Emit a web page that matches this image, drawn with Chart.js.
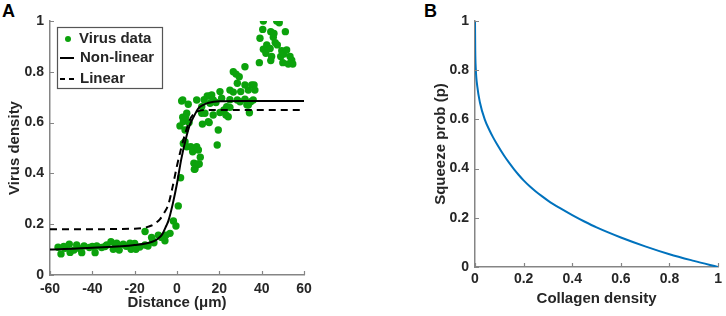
<!DOCTYPE html>
<html>
<head>
<meta charset="utf-8">
<script src="https://cdn.jsdelivr.net/npm/chart.js@4.4.1/dist/chart.umd.min.js"></script>
<style>
  body { margin: 0; background: #fff; width: 726px; height: 316px; overflow: hidden; position: relative; font-family: "Liberation Sans", Arial, sans-serif; }
  .panel { position: absolute; top: 0; }
  .tag { position: absolute; font-weight: bold; font-size: 18px; color: #000; line-height: 21px; }
</style>
</head>
<body>
<div class="tag" style="left:2px;top:1px">A</div>
<div class="tag" style="left:424px;top:1px">B</div>
<div class="panel" style="left:0;width:330px;height:316px"><canvas id="chartA"></canvas></div>
<div class="panel" style="left:430px;width:296px;height:312px"><canvas id="chartB"></canvas></div>
<script>
// panel A: measured virus density vs distance
const virusX = [
  -56.2, -54.8, -53.5, -52.9, -50.9, -50.5, -48.7, -47.4, -46, -45, -43.9, -41.4, -40, -38.7, -37.9,
  -35.6, -34, -33.2, -31.2, -30.1, -29, -28.5, -27.3, -25.4, -24, -22.2, -21.7, -20, -19.4, -17.6,
  -15.1, -15.1, -13.7, -12, -11.5, -10.9, -8.8, -7.3, -5.7, -5.2, -3.3, -1.7, -0.5, 0.6, 1.7,
  1.4, 2.2, 2.7, 2.7, 3.0, 3.0, 3.8, 3.8, 4.1, 4.6, 4.6, 5.3, 5.7, 6.5, 7.4, 8.0, 8.2, 8.5, 9.3,
  9.3, 9.8, 10.1, 10.5, 11.0, 9.3, 11.7, 11.7, 12.0, 12.8, 13.2, 14.3, 14.8, 15.2, 15.6, 15.6, 16.4,
  17.1, 17.1, 18.4, 19.0, 19.5, 20.3, 20.3, 21.1, 22.2, 23.1, 23.5, 24.2, 25.0, 25.0, 25.0, 26.6,
  26.6, 27.9, 28.5, 28.5, 29.4, 29.8, 30.1, 32.1, 32.1, 32.1, 33.0, 33.7, 33.7, 34.2, 34.8, 35.3,
  36.0, 36.4, 36.8,
  38.9, 39.2, 40.5, 40.8, 40.8, 42.0, 42.4, 44.0, 44.3, 44.3, 44.7, 45.5, 45.8, 46.4, 47.1, 47.4,
  48.3, 49.0, 49.5, 50.0, 50.5, 51.2, 51.8, 52.6, 53.4, 54.2, 54.7
];
const virusY = [
  0.109, 0.083, 0.112, 0.105, 0.121, 0.089, 0.098, 0.118, 0.104, 0.088, 0.114, 0.108, 0.112, 0.088, 0.114,
  0.108, 0.112, 0.118, 0.131, 0.101, 0.118, 0.125, 0.098, 0.121, 0.113, 0.125, 0.101, 0.124, 0.101, 0.110,
  0.118, 0.171, 0.114, 0.148, 0.135, 0.127, 0.157, 0.148, 0.135, 0.157, 0.164, 0.213, 0.193, 0.272, 0.383,
  0.587, 0.685, 0.689, 0.621, 0.604, 0.518, 0.525, 0.571, 0.623, 0.637, 0.505, 0.672, 0.600, 0.505, 0.485, 0.440, 0.416, 0.417, 0.433,
  0.505, 0.437, 0.492, 0.437, 0.464, 0.689, 0.663, 0.637, 0.594, 0.690, 0.637, 0.705, 0.604, 0.600, 0.676, 0.705, 0.709,
  0.689, 0.630, 0.679, 0.512, 0.571, 0.722, 0.640, 0.696, 0.650, 0.630, 0.663, 0.623, 0.728, 0.690, 0.660, 0.800,
  0.720, 0.791, 0.755, 0.689, 0.781, 0.682, 0.722, 0.820, 0.748, 0.692, 0.670, 0.728, 0.669, 0.639, 0.682, 0.748,
  0.689, 0.748, 0.728,
  0.836, 0.932, 0.967, 1.000, 0.889, 0.873, 0.906, 0.892, 0.958, 0.844, 0.860, 0.936, 0.951, 0.915, 1.000, 0.906,
  0.993, 0.860, 0.883, 0.836, 0.870, 0.958, 0.886, 0.831, 0.860, 0.846, 0.831
];

// fitted curves
const nonlinX = [-60, -40, -20, -12, -9, -7, -5, -4, -2, 0, 2, 4, 6, 8, 10, 12, 15, 20, 30, 60];
const nonlinY = [0.100, 0.107, 0.118, 0.130, 0.143, 0.160, 0.195, 0.215, 0.280, 0.360, 0.455, 0.530, 0.590, 0.625, 0.655, 0.668, 0.678, 0.684, 0.685, 0.685];
const linearX = [-60, -20, -15, -12, -10, -8, -6, -4, -2, 0, 2, 4, 6, 8, 10, 13, 60];
const linearY = [0.180, 0.182, 0.187, 0.195, 0.205, 0.220, 0.245, 0.280, 0.350, 0.430, 0.500, 0.560, 0.610, 0.635, 0.645, 0.650, 0.650];

// panel B: squeeze probability vs collagen density
const collagen = [0, 0.001, 0.003, 0.01, 0.02, 0.04, 0.06, 0.075, 0.09, 0.12, 0.14, 0.16, 0.18, 0.2, 0.225, 0.25, 0.275, 0.3, 0.35, 0.4, 0.45, 0.5, 0.6, 0.7, 0.8, 0.9, 1.0];
const squeeze = [1.0, 0.88, 0.81, 0.73, 0.67, 0.60, 0.555, 0.526, 0.50, 0.452, 0.424, 0.398, 0.374, 0.352, 0.328, 0.307, 0.288, 0.270, 0.239, 0.211, 0.185, 0.161, 0.120, 0.084, 0.052, 0.025, 0.0];

const AXIS = '#858585';
const TEXT = '#262626';
const FONT = 'Liberation Sans';

const pts = (xs, ys) => xs.map((x, i) => ({ x: x, y: ys[i] }));

const innerTicks = {
    id: 'innerTicks',
    afterDraw(chart) {
        const { ctx, chartArea, scales } = chart;
        ctx.save();
        ctx.strokeStyle = AXIS;
        ctx.lineWidth = 1.2;
        ctx.beginPath();
        scales.x.ticks.forEach(t => {
            const px = Math.round(scales.x.getPixelForValue(t.value)) + 0.5;
            ctx.moveTo(px, chartArea.bottom);
            ctx.lineTo(px, chartArea.bottom - 4);
        });
        scales.y.ticks.forEach(t => {
            const py = Math.round(scales.y.getPixelForValue(t.value)) + 0.5;
            ctx.moveTo(chartArea.left, py);
            ctx.lineTo(chartArea.left + 4, py);
        });
        ctx.stroke();
        ctx.restore();
    }
};

const legendBox = {
    id: 'legendBox',
    afterDraw(chart) {
        const { ctx, chartArea } = chart;
        const x0 = chartArea.left + 7, y0 = chartArea.top + 6;
        ctx.save();
        ctx.fillStyle = '#fff';
        ctx.fillRect(x0, y0, 105, 61);
        ctx.strokeStyle = '#555';
        ctx.lineWidth = 1.2;
        ctx.strokeRect(x0 + 0.5, y0 + 0.5, 105, 61);

        ctx.fillStyle = '#0ca20c';
        ctx.beginPath();
        ctx.arc(x0 + 11, y0 + 12, 3, 0, Math.PI * 2);
        ctx.fill();

        ctx.strokeStyle = '#000';
        ctx.lineWidth = 2;
        ctx.beginPath();
        ctx.moveTo(x0 + 3, y0 + 31);
        ctx.lineTo(x0 + 17, y0 + 31);
        ctx.stroke();
        ctx.setLineDash([5, 4]);
        ctx.beginPath();
        ctx.moveTo(x0 + 3, y0 + 52);
        ctx.lineTo(x0 + 17, y0 + 52);
        ctx.stroke();

        ctx.fillStyle = TEXT;
        ctx.font = 'bold 15px "' + FONT + '"';
        ctx.textBaseline = 'middle';
        ctx.fillText('Virus data', x0 + 22, y0 + 12);
        ctx.fillText('Non-linear', x0 + 23, y0 + 31);
        ctx.fillText('Linear', x0 + 23, y0 + 52);
        ctx.restore();
    }
};

function axis(min, max, step, title, pad, size, isX, titlePad) {
    return {
        type: 'linear',
        min: min,
        max: max,
        ticks: {
            stepSize: step,
            padding: pad,
            color: TEXT,
            font: { family: FONT, size: 14, weight: 'bold' },
            callback: (v) => String(Number(v.toFixed(2)))
        },
        grid: { display: true, drawOnChartArea: false, drawTicks: false },
        border: { display: true, color: AXIS, width: 1.5 },
        title: {
            display: true,
            text: title,
            color: TEXT,
            padding: { top: titlePad, bottom: titlePad },
            font: { family: FONT, size: 15, weight: 'bold' }
        },
        afterFit: (scale) => {
            if (isX) scale.height = size; else scale.width = size;
        }
    };
}

new Chart(document.getElementById('chartA'), {
    type: 'scatter',
    data: {
        datasets: [
            {
                type: 'line',
                label: 'Non-linear',
                data: pts(nonlinX, nonlinY),
                borderColor: '#000',
                borderWidth: 2,
                pointRadius: 0,
                cubicInterpolationMode: 'monotone',
                order: 1
            },
            {
                type: 'line',
                label: 'Linear',
                data: pts(linearX, linearY),
                borderColor: '#000',
                borderWidth: 2,
                borderDash: [7, 5],
                pointRadius: 0,
                cubicInterpolationMode: 'monotone',
                order: 1
            },
            {
                label: 'Virus data',
                data: pts(virusX, virusY),
                backgroundColor: '#0ca20c',
                borderColor: '#0ca20c',
                pointRadius: 3.7,
                borderWidth: 0,
                order: 2
            }
        ]
    },
    options: {
        responsive: true,
        maintainAspectRatio: false,
        animation: false,
        layout: { padding: { top: 21, right: 26, left: 0, bottom: 0 } },
        plugins: { legend: { display: false }, tooltip: { enabled: false } },
        scales: {
            x: axis(-60, 60, 20, 'Distance (\u03bcm)', 6, 41, true, 4),
            y: axis(0, 1, 0.2, 'Virus density', 6, 50, false, 6)
        }
    },
    plugins: [innerTicks, legendBox]
});

new Chart(document.getElementById('chartB'), {
    type: 'scatter',
    data: {
        datasets: [{
            type: 'line',
            label: 'Squeeze prob',
            data: pts(collagen, squeeze),
            borderColor: '#0072BD',
            borderWidth: 2,
            pointRadius: 0,
            cubicInterpolationMode: 'monotone'
        }]
    },
    options: {
        responsive: true,
        maintainAspectRatio: false,
        animation: false,
        layout: { padding: { top: 21, right: 5, left: 0, bottom: 0 } },
        plugins: { legend: { display: false }, tooltip: { enabled: false } },
        scales: {
            x: axis(0, 1, 0.2, 'Collagen density', 4, 45, true, 4),
            y: axis(0, 1, 0.2, 'Squeeze prob (p)', 6, 45, false, 2)
        }
    },
    plugins: [innerTicks]
});
</script>
</body>
</html>
